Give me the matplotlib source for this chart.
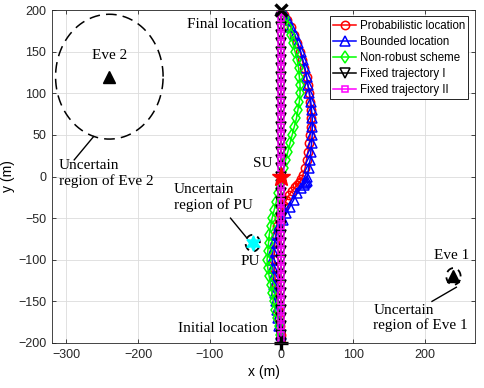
"""
UAV trajectories for secure relaying: robust / non-robust / fixed schemes
"""

import matplotlib
matplotlib.use("Agg")
import matplotlib.pyplot as plt
import numpy as np

plt.rcParams["font.family"] = ["Liberation Sans", "DejaVu Sans"]
SERIF = ["Liberation Serif", "DejaVu Serif"]

# ===== trajectory data (m) =====
prob_x = [0, -1, -2, -4, -5, -6, -7, -8, -9, -10, -10, -10, -9, -8, -6, -4, -1, 3, 7, 11,
          15, 19, 22, 24, 26, 28, 30, 33, 35, 37, 39, 40, 41, 41, 41, 40, 39, 37, 35, 32,
          29, 26, 22, 18, 13, 8, 4, 0]
prob_y = [-200, -190, -180, -170, -160, -150, -140, -130, -120, -110, -100, -90, -80, -70,
          -60, -50, -42, -35, -28, -22, -17, -13, -10, -8, -6, -3, 2, 10, 20, 30, 40, 50,
          60, 70, 80, 90, 100, 110, 120, 130, 140, 150, 160, 170, 180, 188, 194, 200]

bound_x = [0, -1, -3, -5, -6, -8, -9, -10, -11, -12, -13, -12, -10, -7, -3, 2, 7, 12, 17,
           22, 27, 31, 33, 34, 35, 36, 38, 40, 41, 42, 43, 43, 43, 42, 41, 39, 37, 35, 33,
           30, 27, 23, 19, 14, 9, 5, 0]
bound_y = [-200, -190, -180, -170, -160, -150, -140, -130, -120, -110, -100, -90, -80, -70,
           -60, -52, -44, -36, -28, -20, -14, -10, -8, -7, -5, 0, 10, 20, 30, 40, 50, 60, 70,
           80, 90, 100, 110, 120, 130, 140, 150, 160, 170, 180, 188, 194, 200]

nonrob_x = [0, -2, -4, -6, -9, -11, -13, -15, -17, -19, -20, -19, -18, -17, -15, -13, -10,
            -7, -5, -2, 1, 3, 6, 9, 12, 15, 18, 21, 23, 25, 26, 26, 25, 24, 22, 19, 16, 13,
            9, 5, 0]
nonrob_y = [-200, -190, -180, -170, -160, -150, -140, -130, -120, -110, -100, -90, -80,
            -70, -60, -50, -40, -30, -20, -10, 0, 10, 20, 30, 40, 50, 60, 70, 80, 90, 100,
            110, 120, 130, 140, 150, 160, 170, 180, 190, 200]

fixed_y = [-200, -190, -180, -170, -160, -150, -140, -130, -120, -110, -100, -90, -80,
           -70, -60, -50, -40, -30, -20, -10, 0, 10, 20, 30, 40, 50, 60, 70, 80, 90, 100,
           110, 120, 130, 140, 150, 160, 170, 180, 190, 200]
fixed_x = [0] * len(fixed_y)

# nodes
su_pos = (0, 0)
pu_pos = (-40, -80)
eve1_pos = (240, -120)
eve2_pos = (-240, 120)
start_pos = (0, -200)
final_pos = (0, 200)
eve2_radius = 75
small_radius = 10

fig = plt.figure(figsize=(4.84, 3.88), dpi=100)
ax = fig.add_axes([0.1074, 0.116, 0.874, 0.858])

ax.plot(prob_x, prob_y, "-o", color="red", mfc="none", ms=6, mew=1.1, lw=1.1,
        label="Probabilistic location")
ax.plot(bound_x, bound_y, "-^", color="blue", mfc="none", ms=7, mew=1.1, lw=1.1,
        label="Bounded location")
ax.plot(nonrob_x, nonrob_y, "-d", color="#00ff00", mfc="none", ms=6.5, mew=1.1, lw=1.1,
        label="Non-robust scheme")
ax.plot(fixed_x, fixed_y, "-v", color="black", mfc="none", ms=6.5, mew=1.1, lw=1.1,
        label="Fixed trajectory I")
ax.plot(fixed_x, fixed_y, "-s", color="magenta", mfc="none", ms=4.5, mew=1.1, lw=1.1,
        label="Fixed trajectory II")

# uncertain regions
t = np.linspace(0, 2 * np.pi, 200)
ax.plot(eve2_pos[0] + eve2_radius * np.cos(t), eve2_pos[1] + eve2_radius * np.sin(t),
        "k--", lw=1.1, dashes=(7, 4))
for p in (pu_pos, eve1_pos):
    ax.plot(p[0] + small_radius * np.cos(t), p[1] + small_radius * np.sin(t),
            "k--", lw=1.3, dashes=(4, 3))

# nodes
ax.plot(*eve2_pos, "^", color="black", ms=9)
ax.plot(*eve1_pos, "^", color="black", ms=8)
ax.plot(*su_pos, "*", color="red", ms=14, clip_on=False)
ax.plot(*pu_pos, marker=(6, 1, 0), color="cyan", ms=11, ls="none")
ax.plot(*start_pos, "+", color="black", ms=10, mew=2.4, clip_on=False)
ax.plot(*final_pos, "x", color="black", ms=8, mew=2.4, clip_on=False)

# annotations
tkw = dict(family=SERIF, fontsize=11)
ax.text(-240, 146, "Eve 2", ha="center", va="center", **tkw)
ax.text(-310, 4, "Uncertain\nregion of Eve 2", ha="left", va="center", **tkw)
ax.plot([-289, -262], [20, 48], "k-", lw=1)
ax.text(-13, 183, "Final location", ha="right", va="center", **tkw)
ax.text(-12, 16, "SU", ha="right", va="center", **tkw)
ax.text(-150, -25, "Uncertain\nregion of PU", ha="left", va="center", **tkw)
ax.plot([-71, -49], [-50, -73], "k-", lw=1)
ax.text(-44, -102, "PU", ha="center", va="center", **tkw)
ax.text(-19, -182, "Initial location", ha="right", va="center", **tkw)
ax.text(237, -95, "Eve 1", ha="center", va="center", **tkw)
ax.text(128, -170, "Uncertain\nregion of Eve 1", ha="left", va="center", **tkw)
ax.plot([210, 244], [-150, -133], "k-", lw=1)

ax.set_xlim(-320, 270)
ax.set_ylim(-200, 200)
ax.set_xticks([-300, -200, -100, 0, 100, 200])
ax.set_yticks([-200, -150, -100, -50, 0, 50, 100, 150, 200])
ax.tick_params(direction="in", top=True, right=True, length=3, width=0.6,
               labelsize=9, pad=4, colors="#262626")
for s in ax.spines.values():
    s.set_linewidth(0.6)
    s.set_color("#262626")
ax.grid(True, color="#dcdcdc", lw=0.6)
ax.set_axisbelow(True)
ax.set_xlabel("x (m)", fontsize=10, labelpad=3)
ax.set_ylabel("y (m)", fontsize=10, labelpad=2)

leg = ax.legend(loc="upper right", bbox_to_anchor=(0.984, 0.982), borderaxespad=0,
                fontsize=8.3, handlelength=2.0, handletextpad=0.3, labelspacing=0.35,
                borderpad=0.3, fancybox=False, framealpha=1, edgecolor="black")
leg.get_frame().set_linewidth(0.6)

fig.savefig("out.png", dpi=100)
